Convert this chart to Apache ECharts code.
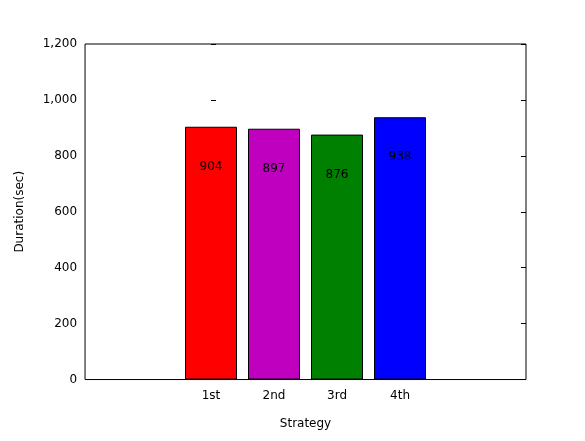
<html><head><script src="https://cdn.jsdelivr.net/npm/echarts@6/dist/echarts.min.js"></script></head>
<body style="margin:0;background:#fff"><div id="c" style="width:585px;height:441px"></div>
<script>
const categories=['1st','2nd','3rd','4th'];
const values=[904,897,876,938];
const colors=['#ff0000','#bf00bf','#008000','#0000ff'];
const yTicks=[0,200,400,600,800,1000,1200];
const chart=echarts.init(document.getElementById('c'));
const font={fontFamily:'DejaVu Sans',fontSize:12,color:'#000'};
chart.setOption({
 animation:false,
 grid:{left:74,right:59,top:44,bottom:45,show:true,borderColor:'#000',borderWidth:1,backgroundColor:'#fff'},
 xAxis:{type:'value',min:-2,max:5,interval:1,name:'Strategy',nameLocation:'middle',nameGap:16,nameTextStyle:font,
  axisLine:{show:false},axisTick:{show:false},splitLine:{show:false},
  axisLabel:Object.assign({},font,{margin:4,formatter:v=>categories[v]!==undefined&&Number.isInteger(v)?categories[v]:''})},
 yAxis:[{type:'value',min:0,max:1200,interval:200,name:'Duration(sec)',nameLocation:'middle',nameGap:42,nameTextStyle:font,
  axisLine:{show:false},splitLine:{show:false},axisTick:{inside:true,length:5,lineStyle:{color:'#000'}},axisLabel:Object.assign({},font,{margin:8})},
  {type:'value',min:0,max:1200,interval:200,position:'right',axisLine:{show:false},splitLine:{show:false},axisTick:{inside:true,length:5,lineStyle:{color:'#000'}},axisLabel:{show:false}}],
 series:[{type:'bar',barWidth:52,
  data:values.map((v,i)=>({value:[i,v],itemStyle:{color:colors[i],borderColor:'#000',borderWidth:1}})),
  label:{show:true,position:'insideTop',distance:28,formatter:p=>p.value[1],fontFamily:'DejaVu Sans',fontSize:12,color:'#000'}}]
});
</script></body></html>
